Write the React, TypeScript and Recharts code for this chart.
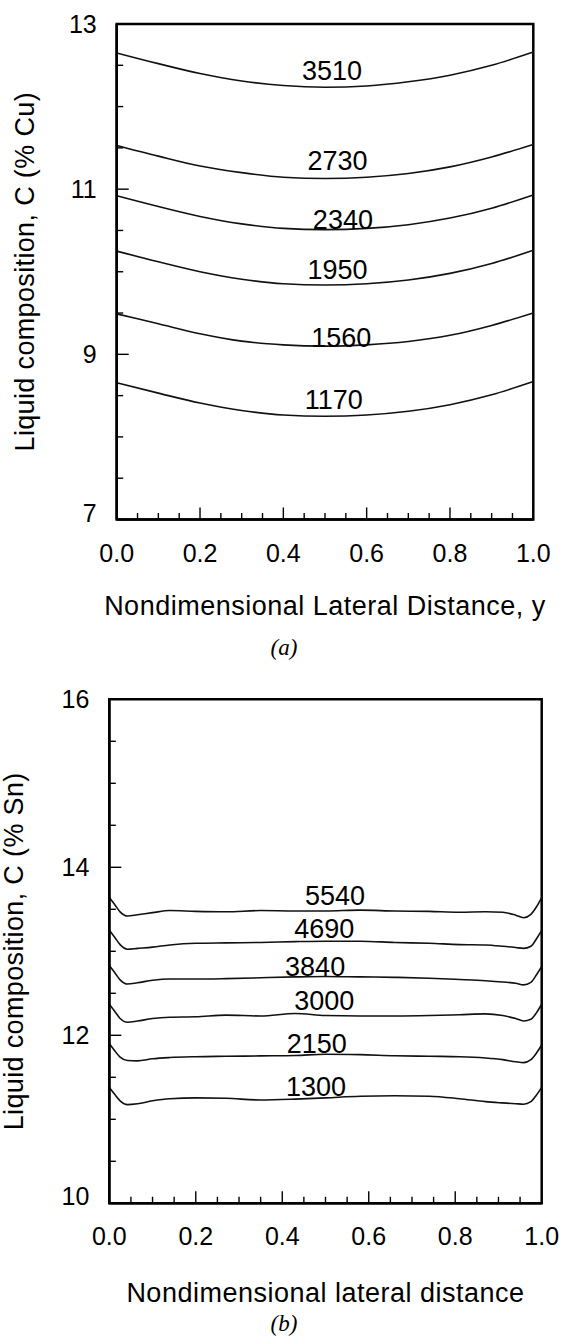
import { LineChart, Line, XAxis, YAxis, ReferenceArea, ReferenceDot } from "recharts";

const FONT = "'Liberation Sans', Arial, Helvetica, sans-serif";
const SERIF = "'Liberation Serif', 'Times New Roman', serif";

// ---- shared x ticks ----
const xTicks = [0, 0.05, 0.1, 0.15, 0.2, 0.25, 0.3, 0.35, 0.4, 0.45, 0.5, 0.55, 0.6, 0.65, 0.7, 0.75, 0.8, 0.85, 0.9, 0.95, 1];
const xTickLabels = [0, 0.2, 0.4, 0.6, 0.8, 1.0];

// ---- (a) Cu ----
const xA = [0, 0.1, 0.2, 0.3, 0.4, 0.5, 0.6, 0.7, 0.8, 0.9, 1.0];
const cu3510 = [12.65, 12.52, 12.4, 12.31, 12.255, 12.235, 12.25, 12.3, 12.38, 12.5, 12.66];
const cu2730 = [11.53, 11.4, 11.28, 11.2, 11.145, 11.13, 11.145, 11.19, 11.27, 11.39, 11.54];
const cu2340 = [10.92, 10.79, 10.67, 10.58, 10.525, 10.51, 10.525, 10.57, 10.65, 10.77, 10.93];
const cu1950 = [10.25, 10.12, 10.0, 9.91, 9.855, 9.84, 9.855, 9.9, 9.98, 10.1, 10.26];
const cu1560 = [9.49, 9.37, 9.25, 9.16, 9.115, 9.1, 9.115, 9.155, 9.23, 9.35, 9.5];
const cu1170 = [8.655, 8.53, 8.41, 8.32, 8.265, 8.25, 8.265, 8.31, 8.39, 8.51, 8.67];
const yTicksA = [7, 7.5, 8, 8.5, 9, 9.5, 10, 10.5, 11, 11.5, 12, 12.5, 13];
const yTickLabelsA = [7, 9, 11, 13];
const curveNamesA = ["3510", "2730", "2340", "1950", "1560", "1170"];
const curveLabelXA = [0.517, 0.53, 0.543, 0.53, 0.539, 0.521];
const curveLabelYA = [12.44, 11.35, 10.63, 10.03, 9.21, 8.45];

// ---- (b) Sn ----
const xB = [0, 0.012, 0.025, 0.042, 0.065, 0.1, 0.14, 0.2, 0.27, 0.35, 0.43, 0.5, 0.58, 0.66, 0.74, 0.81, 0.87, 0.91, 0.94, 0.958, 0.975, 0.988, 1.0];
const sn5540 = [13.64, 13.56, 13.47, 13.42, 13.435, 13.46, 13.485, 13.475, 13.47, 13.485, 13.48, 13.48, 13.49, 13.48, 13.475, 13.465, 13.47, 13.465, 13.43, 13.4, 13.44, 13.53, 13.64];
const sn4690 = [13.25, 13.17, 13.08, 13.025, 13.035, 13.05, 13.075, 13.095, 13.1, 13.105, 13.115, 13.12, 13.12, 13.105, 13.095, 13.08, 13.075, 13.06, 13.045, 13.035, 13.06, 13.15, 13.25];
const sn3840 = [12.83, 12.75, 12.66, 12.61, 12.625, 12.655, 12.67, 12.67, 12.675, 12.685, 12.695, 12.7, 12.695, 12.69, 12.68, 12.665, 12.65, 12.635, 12.62, 12.6, 12.63, 12.72, 12.82];
const sn3000 = [12.37, 12.29, 12.2, 12.155, 12.17, 12.2, 12.215, 12.22, 12.24, 12.23, 12.26, 12.235, 12.23, 12.23, 12.235, 12.245, 12.255, 12.235, 12.2, 12.17, 12.19, 12.27, 12.37];
const sn2150 = [11.9, 11.82, 11.74, 11.7, 11.695, 11.72, 11.735, 11.745, 11.75, 11.755, 11.76, 11.775, 11.77, 11.757, 11.75, 11.745, 11.73, 11.71, 11.685, 11.675, 11.71, 11.79, 11.885];
const sn1300 = [11.38, 11.3, 11.22, 11.175, 11.185, 11.22, 11.245, 11.255, 11.25, 11.23, 11.24, 11.255, 11.275, 11.28, 11.275, 11.245, 11.21, 11.195, 11.185, 11.18, 11.21, 11.29, 11.38];
const yTicksB = [10, 10.5, 11, 11.5, 12, 12.5, 13, 13.5, 14, 14.5, 15, 15.5, 16];
const yTickLabelsB = [10, 12, 14, 16];
const curveNamesB = ["5540", "4690", "3840", "3000", "2150", "1300"];
const curveLabelXB = [0.522, 0.497, 0.476, 0.497, 0.48, 0.478];
const curveLabelYB = [13.67, 13.27, 12.82, 12.42, 11.905, 11.39];

const X_AXIS_H = 40;
const near = (list: number[], v: number) => list.some((l) => Math.abs(l - v) < 1e-6);

const makeXTick = (labels: number[]) => (props: any) => {
  const { x, y, payload } = props;
  const v = payload.value;
  const major = near(labels, v);
  return (
    <g>
      <line x1={x} y1={y} x2={x} y2={y - (major ? 12 : 6.5)} stroke="#000" strokeWidth={1.4} />
      {major && (
        <text x={x} y={y + 42} textAnchor="middle" fontSize={25} fontFamily={FONT} fill="#000">
          {v.toFixed(1)}
        </text>
      )}
    </g>
  );
};

const makeYTick = (labels: number[], lowest: number) => (props: any) => {
  const { x, y, payload } = props;
  const v = payload.value;
  const major = near(labels, v);
  return (
    <g>
      <line x1={x} y1={y} x2={x + (major ? 12 : 6.5)} y2={y} stroke="#000" strokeWidth={1.4} />
      {major && (
        <text x={x - 20} y={y + 9 - (v === lowest ? 7 : 0)} textAnchor="end" fontSize={25} fontFamily={FONT} fill="#000">
          {v}
        </text>
      )}
    </g>
  );
};

type PanelProps = {
  top: number;
  height: number;
  margin: { top: number; right: number; bottom: number };
  yAxisWidth: number;
  xs: number[];
  series: { key: string; values: number[] }[];
  yDomain: [number, number];
  yTicks: number[];
  yTickLabels: number[];
  names: string[];
  labelX: number[];
  labelY: number[];
  xTitle: string;
  yTitle: string;
  yTitleX: number;
  xTitleDy: number;
};

function Panel(p: PanelProps) {
  const width = 564;
  const rows = p.xs.map((x, i) => {
    const r: Record<string, number> = { x };
    p.series.forEach((s) => (r[s.key] = s.values[i]));
    return r;
  });
  const plotLeft = p.yAxisWidth;
  const plotRight = width - p.margin.right;
  const plotTop = p.margin.top;
  const plotBottom = p.height - p.margin.bottom - X_AXIS_H;
  const cx = (plotLeft + plotRight) / 2;
  const cy = (plotTop + plotBottom) / 2;
  return (
    <div style={{ position: "absolute", left: 0, top: p.top }}>
      <LineChart
        width={width}
        height={p.height}
        data={rows}
        margin={{ top: p.margin.top, right: p.margin.right, bottom: p.margin.bottom, left: 0 }}
        style={{ overflow: "visible" }}
      >
        <XAxis
          type="number"
          dataKey="x"
          domain={[0, 1]}
          ticks={xTicks}
          interval={0}
          height={X_AXIS_H}
          tickSize={0}
          tickMargin={0}
          tickLine={false}
          tick={makeXTick(xTickLabels)}
          axisLine={{ stroke: "#000", strokeWidth: 2.5 }}
        />
        <YAxis
          type="number"
          domain={p.yDomain}
          ticks={p.yTicks}
          interval={0}
          width={p.yAxisWidth}
          tickSize={0}
          tickMargin={0}
          tickLine={false}
          tick={makeYTick(p.yTickLabels, p.yDomain[0])}
          axisLine={{ stroke: "#000", strokeWidth: 2.5 }}
        />
        <ReferenceArea
          x1={0}
          x2={1}
          y1={p.yDomain[0]}
          y2={p.yDomain[1]}
          fill="none"
          fillOpacity={0}
          stroke="#000"
          strokeWidth={2.5}
        />
        {p.series.map((s) => (
          <Line
            key={s.key}
            dataKey={s.key}
            type="monotone"
            stroke="#111"
            strokeWidth={1.6}
            dot={false}
            activeDot={false}
            isAnimationActive={false}
          />
        ))}
        {p.names.map((n, i) => (
          <ReferenceDot
            key={n}
            x={p.labelX[i]}
            y={p.labelY[i]}
            r={0}
            shape={(d: any) => (
              <text x={d.cx} y={d.cy + 9.7} textAnchor="middle" fontSize={27} fontFamily={FONT} fill="#000">
                {n}
              </text>
            )}
          />
        ))}
        <text
          x={cx}
          y={plotBottom + p.xTitleDy}
          textAnchor="middle"
          fontSize={27}
          letterSpacing={0.5}
          fontFamily={FONT}
          fill="#000"
        >
          {p.xTitle}
        </text>
        <text
          x={p.yTitleX}
          y={cy}
          transform={`rotate(-90, ${p.yTitleX}, ${cy})`}
          textAnchor="middle"
          fontSize={27}
          letterSpacing={0.35}
          fontFamily={FONT}
          fill="#000"
        >
          {p.yTitle}
        </text>
      </LineChart>
    </div>
  );
}

const captionStyle = (top: number): React.CSSProperties => ({
  position: "absolute",
  left: 284,
  top,
  transform: "translate(-50%, -50%)",
  fontFamily: SERIF,
  fontStyle: "italic",
  fontSize: 23,
  lineHeight: 1,
  color: "#000",
  whiteSpace: "nowrap",
});

export default function App() {
  return (
    <div style={{ position: "absolute", left: 0, top: 0, width: 564, height: 1336, background: "#fff", overflow: "hidden" }}>
      <Panel
        top={0}
        height={630}
        margin={{ top: 24, right: 30.7, bottom: 70.5 }}
        yAxisWidth={116.7}
        xs={xA}
        series={[
          { key: "c3510", values: cu3510 },
          { key: "c2730", values: cu2730 },
          { key: "c2340", values: cu2340 },
          { key: "c1950", values: cu1950 },
          { key: "c1560", values: cu1560 },
          { key: "c1170", values: cu1170 },
        ]}
        yDomain={[7, 13]}
        yTicks={yTicksA}
        yTickLabels={yTickLabelsA}
        names={curveNamesA}
        labelX={curveLabelXA}
        labelY={curveLabelYA}
        xTitle="Nondimensional Lateral Distance, y"
        yTitle="Liquid composition, C (% Cu)"
        yTitleX={34}
        xTitleDy={95}
      />
      <div style={captionStyle(646.7)}>(a)</div>
      <Panel
        top={660}
        height={676}
        margin={{ top: 39.3, right: 22.3, bottom: 92.7 }}
        yAxisWidth={109.3}
        xs={xB}
        series={[
          { key: "s5540", values: sn5540 },
          { key: "s4690", values: sn4690 },
          { key: "s3840", values: sn3840 },
          { key: "s3000", values: sn3000 },
          { key: "s2150", values: sn2150 },
          { key: "s1300", values: sn1300 },
        ]}
        yDomain={[10, 16]}
        yTicks={yTicksB}
        yTickLabels={yTickLabelsB}
        names={curveNamesB}
        labelX={curveLabelXB}
        labelY={curveLabelYB}
        xTitle="Nondimensional lateral distance"
        yTitle="Liquid composition, C (% Sn)"
        yTitleX={23.5}
        xTitleDy={98.4}
      />
      <div style={captionStyle(1322.5)}>(b)</div>
    </div>
  );
}
